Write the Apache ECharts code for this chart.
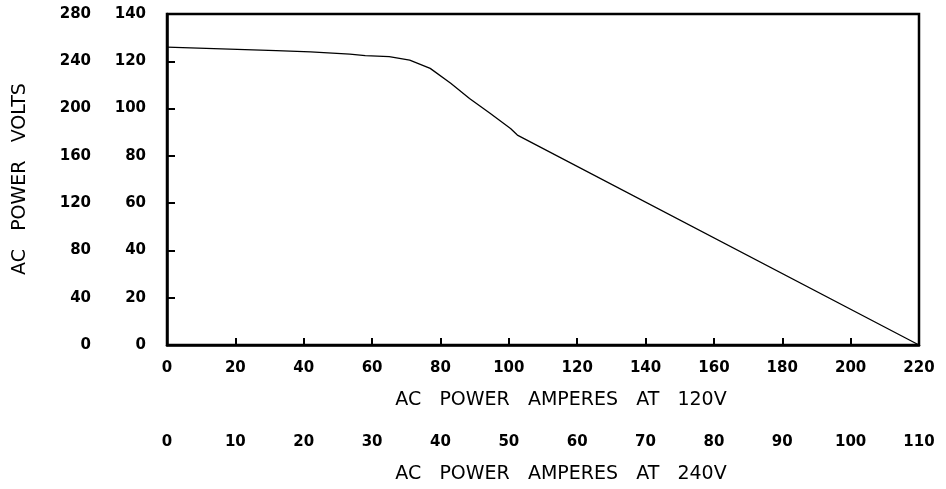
<!DOCTYPE html>
<html>
<head>
<meta charset="utf-8">
<script src="https://cdn.jsdelivr.net/npm/echarts@6/dist/echarts.min.js"></script>
<style>
html,body{margin:0;padding:0;background:#fff;}
#chart{width:946px;height:489px;}
</style>
</head>
<body>
<div id="chart"></div>
<script>
// Data (x: amperes at 120V, y: volts on the 0-140 scale)
const amps120 = [0, 32, 42, 53.5, 58, 65, 71, 77, 83, 88.5, 94.5, 100.5, 102.5, 220];
const volts = [126, 124.5, 124, 123, 122.4, 122, 120.5, 117, 110.7, 104.3, 98, 91.6, 88.8, 0];

const xTitle120 = 'AC   POWER   AMPERES   AT   120V';
const xTitle240 = 'AC   POWER   AMPERES   AT   240V';
const yTitle = 'AC   POWER   VOLTS';

const FONT = 'DejaVu Sans';
const tickLabel = {color:'#000', fontFamily: FONT, fontSize: 15, fontWeight: 'bold'};

const chart = echarts.init(document.getElementById('chart'), null, {renderer:'canvas'});
chart.setOption({
  animation: false,
  backgroundColor: '#fff',
  grid: {left: 167, right: 27, top: 14, bottom: 144, show: true, borderColor: '#000', borderWidth: 2.5, backgroundColor: 'transparent'},
  xAxis: [
    {
      type: 'value', min: 0, max: 220, interval: 20, position: 'bottom',
      axisLine: {show: true, lineStyle: {color:'#000', width: 2.5}},
      axisTick: {show: true, inside: true, length: 7, lineStyle: {color:'#000', width: 2}},
      axisLabel: Object.assign({margin: 16}, tickLabel),
      splitLine: {show: false}
    },
    {
      type: 'value', min: 0, max: 110, interval: 10, position: 'bottom', offset: 74,
      axisLine: {show: false}, axisTick: {show: false},
      axisLabel: Object.assign({margin: 16}, tickLabel),
      splitLine: {show: false}
    }
  ],
  yAxis: [
    {
      type: 'value', min: 0, max: 140, interval: 20, position: 'left',
      axisLine: {show: true, lineStyle: {color:'#000', width: 2.5}},
      axisTick: {show: true, inside: true, length: 8, lineStyle: {color:'#000', width: 2}},
      axisLabel: Object.assign({margin: 21}, tickLabel),
      splitLine: {show: false}
    },
    {
      type: 'value', min: 0, max: 280, interval: 40, position: 'left', offset: 55,
      axisLine: {show: false}, axisTick: {show: false},
      axisLabel: Object.assign({margin: 21}, tickLabel),
      splitLine: {show: false}
    }
  ],
  series: [{
    type: 'line',
    xAxisIndex: 0, yAxisIndex: 0,
    data: amps120.map((a, i) => [a, volts[i]]),
    symbol: 'none',
    lineStyle: {color: '#000', width: 1.3}
  }],
  graphic: [
    {type:'text', x: 561, y: 400, style: {text: xTitle120, fill:'#000', font: '19px "DejaVu Sans"', align:'center', verticalAlign:'middle'}},
    {type:'text', x: 561, y: 474, style: {text: xTitle240, fill:'#000', font: '19px "DejaVu Sans"', align:'center', verticalAlign:'middle'}},
    {type:'text', x: 20, y: 179, rotation: Math.PI/2, style: {text: yTitle, fill:'#000', font: '19px "DejaVu Sans"', align:'center', verticalAlign:'middle'}}
  ]
});
</script>
</body>
</html>
